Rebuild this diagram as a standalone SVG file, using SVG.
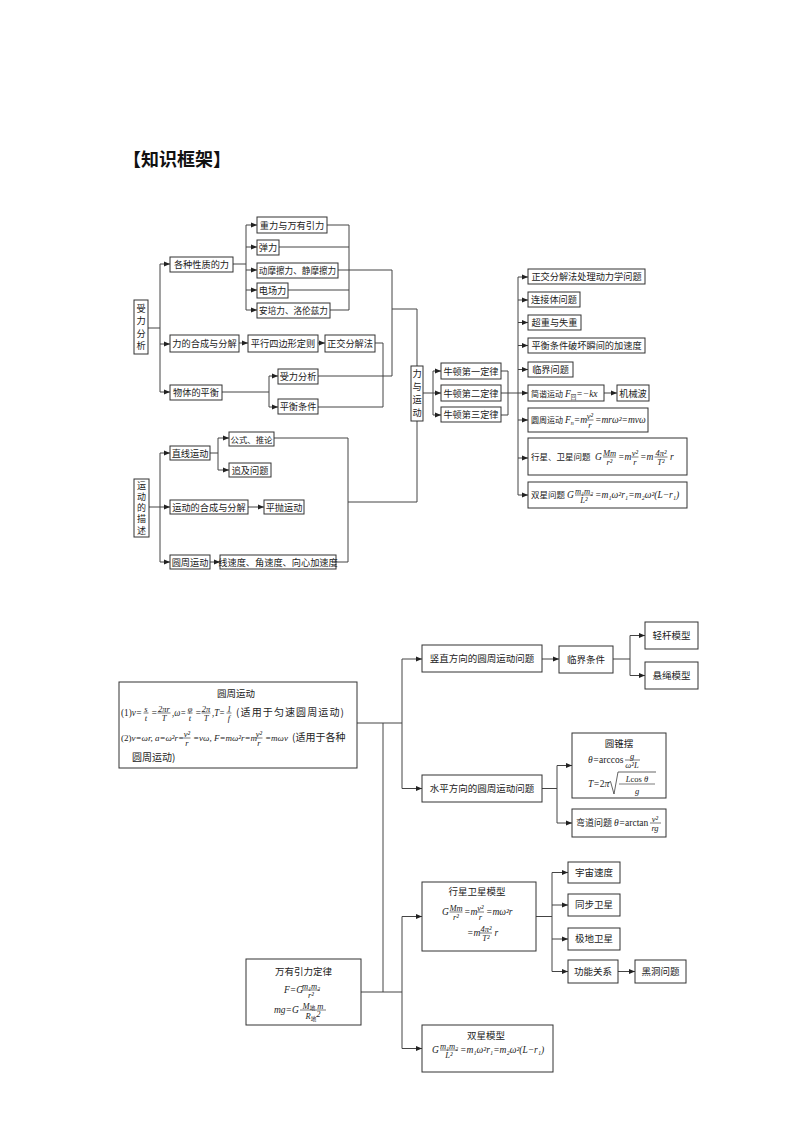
<svg xmlns="http://www.w3.org/2000/svg" width="800" height="1132" viewBox="0 0 800 1132">
<defs>
<marker id="ah" viewBox="0 0 6 6" refX="6" refY="3" markerWidth="6" markerHeight="6" markerUnits="userSpaceOnUse" orient="auto"><path d="M0,0.6 L6,3 L0,5.4 z" fill="#222"/></marker>
<style>
.bx{fill:#fff;stroke:#333;stroke-width:1}
.ln{fill:none;stroke:#444;stroke-width:1}
.ar{fill:none;stroke:#444;stroke-width:1;marker-end:url(#ah)}
.cn{font-family:"Noto Sans CJK SC",sans-serif;font-size:9.2px;fill:#222}
.cb{font-family:"Noto Sans CJK SC",sans-serif;font-size:9.5px;fill:#222}
.c{text-anchor:middle}
.mi{font-family:"Liberation Serif",serif;font-style:italic;font-size:9.5px;fill:#222}
.mu{font-style:normal}
.fr{font-family:"Liberation Serif",serif;font-style:italic;font-size:8.5px;fill:#222;text-anchor:middle}
.bar{stroke:#222;stroke-width:0.6}
</style>
</defs>
<rect width="800" height="1132" fill="#fff"/>
<text x="123" y="166" style="font-family:'Noto Sans CJK SC',sans-serif;font-size:18px;font-weight:bold;fill:#111">【知识框架】</text>

<g id="connectors">
<path class="ln" d="M148,328 H160 M160,264 V392 M233,264 H246 M246,225 V310 M327,225 H349 M279,247 H349 M288,290 H349 M330,310 H349 M349,225 V310 M338,270 H392 V376 H318 M392,309 H417 V366 M375,343 H383 V407 H318 M222,392 H269 M269,376 V407"/>
<path class="ar" d="M160,264 H170"/><path class="ar" d="M160,344 H170"/><path class="ar" d="M160,392 H170"/>
<path class="ar" d="M246,225 H257"/><path class="ar" d="M246,247 H257"/><path class="ar" d="M246,270 H257"/><path class="ar" d="M246,290 H257"/><path class="ar" d="M246,310 H257"/>
<path class="ar" d="M239,343 H248"/><path class="ar" d="M318,343 H325"/>
<path class="ar" d="M269,376 H278"/><path class="ar" d="M269,407 H278"/>
<path class="ln" d="M149,507 H160 M160,453 V562 M210,453 H218 M218,438 V470 M274,438 H348 M336,562 H348 M348,438 V562 M348,502 H417 V421"/>
<path class="ar" d="M160,453 H170"/><path class="ar" d="M160,507 H170"/><path class="ar" d="M160,562 H170"/>
<path class="ar" d="M218,438 H229"/><path class="ar" d="M218,470 H229"/>
<path class="ar" d="M248,507 H264"/><path class="ar" d="M210,562 H220"/>
<path class="ln" d="M423,393 H433 M433,371 V415 M501,371 H508 V415 H501 M518,277 V495"/>
<path class="ar" d="M433,371 H441"/><path class="ar" d="M433,393 H441"/><path class="ar" d="M433,415 H441"/>
<path class="ar" d="M501,393 H528"/>
<path class="ar" d="M518,277 H528"/><path class="ar" d="M518,300 H528"/><path class="ar" d="M518,322.5 H528"/><path class="ar" d="M518,345.5 H528"/><path class="ar" d="M518,369.5 H528"/><path class="ar" d="M518,420 H528"/><path class="ar" d="M518,458 H528"/><path class="ar" d="M518,495 H528"/>
<path class="ar" d="M604,393 H617"/>
<path class="ln" d="M357,723 H402 M402,659 V788.5 M383,723 V992 M613,659 H630 M630,635.5 V675.5 M542,788.5 H557 M557,765.5 V823 M361,992 H402 M402,916.5 V1048.5 M536,916.5 H552 M552,872.5 V971.5"/>
<path class="ar" d="M402,659 H422"/><path class="ar" d="M402,788.5 H422"/>
<path class="ar" d="M542,659 H559"/>
<path class="ar" d="M630,635.5 H645"/><path class="ar" d="M630,675.5 H645"/>
<path class="ar" d="M557,765.5 H572"/><path class="ar" d="M557,823 H572"/>
<path class="ar" d="M402,916.5 H422"/><path class="ar" d="M402,1048.5 H422"/>
<path class="ar" d="M552,872.5 H568"/><path class="ar" d="M552,905 H568"/><path class="ar" d="M552,939 H568"/><path class="ar" d="M552,971.5 H568"/>
<path class="ar" d="M618,971.5 H635"/>
</g>

<g id="n-slfx"><rect class="bx" x="134" y="300" width="14" height="54"/><text class="cn c" y="311.5"><tspan x="141">受</tspan><tspan x="141" dy="12.5">力</tspan><tspan x="141" dy="12.5">分</tspan><tspan x="141" dy="12.5">析</tspan></text></g>
<g id="n-gzxz"><rect class="bx" x="170" y="257" width="63" height="15"/><text class="cn c" x="201.5" y="268">各种性质的力</text></g>
<g id="n-zl"><rect class="bx" x="257" y="217" width="70" height="16"/><text class="cn c" x="292" y="228.5">重力与万有引力</text></g>
<g id="n-tl"><rect class="bx" x="257" y="240" width="22" height="15"/><text class="cn c" x="268" y="251">弹力</text></g>
<g id="n-mc"><rect class="bx" x="257" y="263" width="81" height="15"/><text class="cn c" x="297.5" y="274" style="font-size:8.6px">动摩擦力、静摩擦力</text></g>
<g id="n-dc"><rect class="bx" x="257" y="283" width="31" height="15"/><text class="cn c" x="272.5" y="294">电场力</text></g>
<g id="n-ap"><rect class="bx" x="257" y="303" width="73" height="15"/><text class="cn c" x="293.5" y="314" style="font-size:8.6px">安培力、洛伦兹力</text></g>
<g id="n-hc"><rect class="bx" x="170" y="335" width="69" height="17"/><text class="cn c" x="204.5" y="347">力的合成与分解</text></g>
<g id="n-px"><rect class="bx" x="248" y="335" width="70" height="17"/><text class="cn c" x="283" y="347">平行四边形定则</text></g>
<g id="n-zjf"><rect class="bx" x="325" y="335" width="50" height="17"/><text class="cn c" x="350" y="347">正交分解法</text></g>
<g id="n-wt"><rect class="bx" x="170" y="385" width="52" height="15"/><text class="cn c" x="196" y="396">物体的平衡</text></g>
<g id="n-slfx2"><rect class="bx" x="278" y="369" width="40" height="15"/><text class="cn c" x="298" y="380">受力分析</text></g>
<g id="n-phtj"><rect class="bx" x="278" y="399" width="40" height="15"/><text class="cn c" x="298" y="410">平衡条件</text></g>

<g id="n-ydms"><rect class="bx" x="134" y="479" width="15" height="58"/><text class="cn c" y="488.5" style="font-size:9px"><tspan x="141.5">运</tspan><tspan x="141.5" dy="11.3">动</tspan><tspan x="141.5" dy="11.3">的</tspan><tspan x="141.5" dy="11.3">描</tspan><tspan x="141.5" dy="11.3">述</tspan></text></g>
<g id="n-zxyd"><rect class="bx" x="170" y="446" width="40" height="14"/><text class="cn c" x="190" y="456.5">直线运动</text></g>
<g id="n-gstl"><rect class="bx" x="229" y="432" width="45" height="14"/><text class="cn c" x="251.5" y="442.5" style="font-size:8.4px">公式、推论</text></g>
<g id="n-zjwt"><rect class="bx" x="229" y="463" width="42" height="14"/><text class="cn c" x="250" y="473.5">追及问题</text></g>
<g id="n-ydhc"><rect class="bx" x="170" y="500" width="78" height="14"/><text class="cn c" x="209" y="510.5">运动的合成与分解</text></g>
<g id="n-ppyd"><rect class="bx" x="264" y="500" width="40" height="14"/><text class="cn c" x="284" y="510.5">平抛运动</text></g>
<g id="n-yzyd"><rect class="bx" x="170" y="555" width="40" height="14"/><text class="cn c" x="190" y="565.5">圆周运动</text></g>
<g id="n-xsd"><rect class="bx" x="220" y="555" width="116" height="14"/><text class="cn c" x="278" y="565.5">线速度、角速度、向心加速度</text></g>

<g id="n-lyyd"><rect class="bx" x="411" y="366" width="12" height="55"/><text class="cn c" y="377"><tspan x="417">力</tspan><tspan x="417" dy="13">与</tspan><tspan x="417" dy="13">运</tspan><tspan x="417" dy="13">动</tspan></text></g>
<g id="n-nd1"><rect class="bx" x="441" y="363" width="60" height="16"/><text class="cn c" x="471" y="374.5">牛顿第一定律</text></g>
<g id="n-nd2"><rect class="bx" x="441" y="385" width="60" height="16"/><text class="cn c" x="471" y="396.5">牛顿第二定律</text></g>
<g id="n-nd3"><rect class="bx" x="441" y="407" width="60" height="15"/><text class="cn c" x="471" y="418">牛顿第三定律</text></g>

<g id="n-r1"><rect class="bx" x="528" y="269" width="117" height="15"/><text class="cn c" x="586.5" y="280">正交分解法处理动力学问题</text></g>
<g id="n-r2"><rect class="bx" x="528" y="292" width="52" height="15"/><text class="cn c" x="554" y="303">连接体问题</text></g>
<g id="n-r3"><rect class="bx" x="528" y="315" width="53" height="15"/><text class="cn c" x="554.5" y="326">超重与失重</text></g>
<g id="n-r4"><rect class="bx" x="528" y="338" width="117" height="15"/><text class="cn c" x="586.5" y="349">平衡条件破坏瞬间的加速度</text></g>
<g id="n-r5"><rect class="bx" x="528" y="362" width="45" height="15"/><text class="cn c" x="550.5" y="373">临界问题</text></g>
<g id="n-r6"><rect class="bx" x="528" y="385" width="76" height="16"/>
<text class="cn" x="531" y="396.5" style="font-size:8px">简谐运动</text>
<text class="mi" x="565" y="396.5">F<tspan style="font-family:'Noto Sans CJK SC',sans-serif;font-style:normal;font-size:5.5px" dy="2">回</tspan><tspan dy="-2">=−kx</tspan></text></g>
<g id="n-jxb"><rect class="bx" x="617" y="385" width="32" height="16"/><text class="cn c" x="633" y="396.5">机械波</text></g>
<g id="n-r7"><rect class="bx" x="528" y="408" width="120" height="24"/>
<text class="cn" x="531" y="423" style="font-size:8px">圆周运动</text>
<text class="mi" x="565" y="423">F<tspan font-size="6" dy="2">n</tspan><tspan dy="-2">=m</tspan></text>
<text class="fr" x="590" y="418.5">v²</text><line class="bar" x1="586.5" y1="420" x2="593.5" y2="420"/><text class="fr" x="590" y="427.5">r</text>
<text class="mi" x="595" y="423">=mrω²=mvω</text></g>
<g id="n-r8"><rect class="bx" x="528" y="438" width="159" height="37"/>
<text class="cn" x="531" y="460" style="font-size:8.5px">行星、卫星问题</text>
<text class="mi" x="595" y="460">G</text>
<text class="fr" x="609.5" y="455.5">Mm</text><line class="bar" x1="603" y1="457" x2="616" y2="457"/><text class="fr" x="609.5" y="465">r²</text>
<text class="mi" x="618" y="460">=m</text>
<text class="fr" x="635" y="455.5">v²</text><line class="bar" x1="631.5" y1="457" x2="638.5" y2="457"/><text class="fr" x="635" y="465">r</text>
<text class="mi" x="640" y="460">=m</text>
<text class="fr" x="661" y="455.5">4π²</text><line class="bar" x1="654.5" y1="457" x2="667.5" y2="457"/><text class="fr" x="661" y="465">T²</text>
<text class="mi" x="670" y="460">r</text></g>
<g id="n-r9"><rect class="bx" x="528" y="482" width="159" height="26"/>
<text class="cn" x="531" y="498" style="font-size:8.5px">双星问题</text>
<text class="mi" x="567" y="498">G</text>
<text class="fr" x="584" y="493.5">m₁m₂</text><line class="bar" x1="575" y1="495" x2="593" y2="495"/><text class="fr" x="584" y="503">L²</text>
<text class="mi" x="595" y="498">=m₁ω²r₁=m₂ω²(L−r₁)</text></g>

<g id="n-yzyd2"><rect class="bx" x="119" y="682" width="238" height="86"/>
<text class="cb c" x="236" y="697">圆周运动</text>
<text class="mi" x="121" y="716" textLength="21" lengthAdjust="spacingAndGlyphs"><tspan class="mu">(1)</tspan>v=</text>
<text class="fr" x="146" y="711.5">s</text><line class="bar" x1="143.5" y1="713" x2="148.5" y2="713"/><text class="fr" x="146" y="721">t</text>
<text class="mi" x="151" y="716">=</text>
<text class="fr" x="164" y="711.5">2πr</text><line class="bar" x1="157.5" y1="713" x2="170.5" y2="713"/><text class="fr" x="164" y="721">T</text>
<text class="mi" x="172" y="716" textLength="14" lengthAdjust="spacingAndGlyphs">,ω=</text>
<text class="fr" x="190" y="711.5">φ</text><line class="bar" x1="187.5" y1="713" x2="192.5" y2="713"/><text class="fr" x="190" y="721">t</text>
<text class="mi" x="195" y="716">=</text>
<text class="fr" x="206" y="711.5">2π</text><line class="bar" x1="201.5" y1="713" x2="210.5" y2="713"/><text class="fr" x="206" y="721">T</text>
<text class="mi" x="212" y="716" textLength="13" lengthAdjust="spacingAndGlyphs">,T=</text>
<text class="fr" x="229" y="711.5">1</text><line class="bar" x1="226.5" y1="713" x2="231.5" y2="713"/><text class="fr" x="229" y="721">f</text>
<text class="cb" x="236" y="716" style="font-size:10px" textLength="108">(适用于匀速圆周运动)</text>
<text class="mi" x="121" y="741" style="font-size:9px"><tspan class="mu">(2)</tspan>v=ωr, a=ω²r=</text>
<text class="fr" x="187" y="736.5">v²</text><line class="bar" x1="183.5" y1="738" x2="190.5" y2="738"/><text class="fr" x="187" y="746">r</text>
<text class="mi" x="193" y="741" style="font-size:9px">=vω, F=mω²r=m</text>
<text class="fr" x="259" y="736.5">v²</text><line class="bar" x1="255.5" y1="738" x2="262.5" y2="738"/><text class="fr" x="259" y="746">r</text>
<text class="mi" x="265" y="741" style="font-size:9px">=mωv</text>
<text class="cb" x="292" y="741" style="font-size:10px">(适用于各种</text>
<text class="cb" x="132" y="761" style="font-size:10px">圆周运动)</text></g>

<g id="n-szfx"><rect class="bx" x="422" y="645" width="120" height="27"/><text class="cb c" x="482" y="661.7">竖直方向的圆周运动问题</text></g>
<g id="n-ljtj"><rect class="bx" x="559" y="646" width="54" height="27"/><text class="cb c" x="586" y="662.7">临界条件</text></g>
<g id="n-qg"><rect class="bx" x="645" y="622" width="53" height="27"/><text class="cb c" x="671.5" y="638.7">轻杆模型</text></g>
<g id="n-xs"><rect class="bx" x="645" y="662" width="53" height="27"/><text class="cb c" x="671.5" y="678.7">悬绳模型</text></g>
<g id="n-spfx"><rect class="bx" x="422" y="775" width="120" height="27"/><text class="cb c" x="482" y="791.7">水平方向的圆周运动问题</text></g>
<g id="n-yzb"><rect class="bx" x="572" y="733" width="94" height="65"/>
<text class="cb c" x="619" y="747">圆锥摆</text>
<text class="mi" x="588" y="763">θ=<tspan class="mu">arccos</tspan></text>
<text class="fr" x="632" y="758.5">g</text><line class="bar" x1="625" y1="760" x2="640" y2="760"/><text class="fr" x="632" y="768">ω²L</text>
<text class="mi" x="588" y="787">T=<tspan class="mu">2</tspan>π</text>
<path d="M608,783 L610.5,781.5 L614,794 L618,772 L656,772" fill="none" stroke="#222" stroke-width="0.7"/>
<text class="fr" x="637" y="782" style="font-size:8.5px">L<tspan class="mu">cos </tspan>θ</text><line class="bar" x1="619" y1="784" x2="655" y2="784"/><text class="fr" x="637" y="793.5">g</text></g>
<g id="n-wd"><rect class="bx" x="572" y="809" width="94" height="28"/>
<text class="cb" x="576" y="826" style="font-size:9px">弯道问题</text>
<text class="mi" x="614" y="826">θ=<tspan class="mu">arctan</tspan></text>
<text class="fr" x="655" y="821.5">v²</text><line class="bar" x1="650" y1="823" x2="661" y2="823"/><text class="fr" x="655" y="831">rg</text></g>

<g id="n-wyyl"><rect class="bx" x="246" y="959" width="115" height="66"/>
<text class="cb c" x="303.5" y="975">万有引力定律</text>
<text class="mi" x="284" y="993">F=G</text>
<text class="fr" x="311" y="988.5">m₁m₂</text><line class="bar" x1="302" y1="990" x2="320" y2="990"/><text class="fr" x="311" y="998">r²</text>
<text class="mi" x="274" y="1013">mg=G</text>
<text class="fr" x="313" y="1008.5">M<tspan style="font-family:'Noto Sans CJK SC',sans-serif;font-style:normal;font-size:5.5px" dy="1.5">地</tspan><tspan dy="-1.5"> m</tspan></text><line class="bar" x1="300" y1="1010" x2="326" y2="1010"/><text class="fr" x="313" y="1019">R<tspan style="font-family:'Noto Sans CJK SC',sans-serif;font-style:normal;font-size:5.5px" dy="1.5">地</tspan><tspan dy="-4">2</tspan></text></g>
<g id="n-xxwx"><rect class="bx" x="422" y="882" width="114" height="69"/>
<text class="cb c" x="477" y="895">行星卫星模型</text>
<text class="mi" x="442" y="915">G</text>
<text class="fr" x="456" y="910.5">Mm</text><line class="bar" x1="449.5" y1="912" x2="462.5" y2="912"/><text class="fr" x="456" y="920">r²</text>
<text class="mi" x="464" y="915">=m</text>
<text class="fr" x="480.5" y="910.5">v²</text><line class="bar" x1="477" y1="912" x2="484" y2="912"/><text class="fr" x="480.5" y="920">r</text>
<text class="mi" x="486" y="915">=mω²r</text>
<text class="mi" x="467" y="936">=m</text>
<text class="fr" x="486" y="931.5">4π²</text><line class="bar" x1="480" y1="933" x2="492" y2="933"/><text class="fr" x="486" y="941">T²</text>
<text class="mi" x="494.5" y="936">r</text></g>
<g id="n-yzsd"><rect class="bx" x="568" y="862" width="52" height="21"/><text class="cb c" x="594" y="875.7">宇宙速度</text></g>
<g id="n-tbwx"><rect class="bx" x="568" y="894" width="52" height="22"/><text class="cb c" x="594" y="908.2">同步卫星</text></g>
<g id="n-jdwx"><rect class="bx" x="568" y="928" width="52" height="22"/><text class="cb c" x="594" y="942.2">极地卫星</text></g>
<g id="n-gngx"><rect class="bx" x="568" y="960" width="50" height="23"/><text class="cb c" x="593" y="974.7">功能关系</text></g>
<g id="n-hdwt"><rect class="bx" x="635" y="960" width="51" height="23"/><text class="cb c" x="660.5" y="974.7">黑洞问题</text></g>
<g id="n-sxmx"><rect class="bx" x="422" y="1025" width="131" height="47"/>
<text class="cb c" x="486" y="1039">双星模型</text>
<text class="mi" x="432" y="1053">G</text>
<text class="fr" x="449" y="1048.5">m₁m₂</text><line class="bar" x1="440" y1="1050" x2="458" y2="1050"/><text class="fr" x="449" y="1058">L²</text>
<text class="mi" x="460" y="1053">=m₁ω²r₁=m₂ω²(L−r₁)</text></g>
</svg>
